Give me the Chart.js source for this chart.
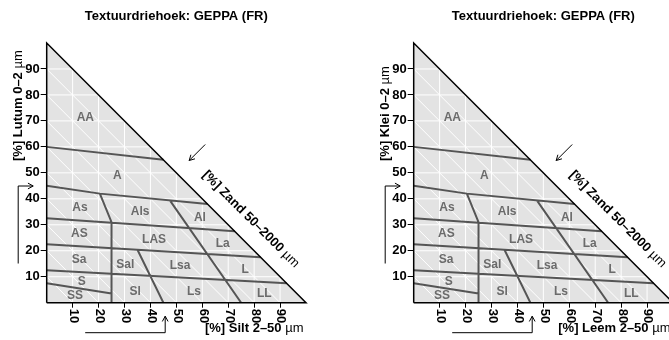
<!DOCTYPE html>
<html>
<head>
<meta charset="utf-8">
<script src="https://cdn.jsdelivr.net/npm/chart.js@4.4.0/dist/chart.umd.min.js"></script>
<style>
html, body { margin: 0; padding: 0; background: #fff; overflow: hidden; width: 669px; height: 340px; position: relative; }
canvas { position: absolute; top: 0; }
</style>
</head>
<body>
<canvas id="left-chart" width="335" height="340" style="left:0"></canvas>
<canvas id="right-chart" width="335" height="340" style="left:367px"></canvas>
<script>
Chart.defaults.font.family = "'Liberation Sans', Arial, sans-serif";
Chart.defaults.color = '#000';

const chartTitle = 'Textuurdriehoek: GEPPA (FR)';
const tickValues = [10, 20, 30, 40, 50, 60, 70, 80, 90];

// class labels (silt %, clay %)
const classNames = ['AA', 'A', 'As', 'Als', 'Al', 'AS', 'LAS', 'La', 'Sa', 'Sal', 'Lsa', 'L', 'S', 'SS', 'Sl', 'Ls', 'LL'];
const classSilt  = [14.9, 27.2, 12.8, 36.0, 59.1, 12.6, 41.4, 67.9, 12.5, 30.3, 51.4, 76.5, 13.5, 10.9, 34.1, 56.8, 83.9];
const classClay  = [71.3, 48.9, 36.6, 35.1, 32.9, 26.4, 24.4, 22.9, 16.5, 14.8, 14.2, 12.9, 8.1, 2.6, 4.2, 4.2, 3.6];

// class boundaries as [silt, clay] polylines
const boundaries = [
    [[0, 60], [45, 55]],
    [[0, 45], [20.5, 42], [62, 38]],
    [[20.5, 42], [25, 31], [25, 0]],
    [[0, 32.5], [72.5, 27.5]],
    [[0, 22.5], [82.5, 17.5]],
    [[0, 12.5], [92.5, 7.5]],
    [[0, 7.5], [25, 3.5]],
    [[35, 20.4], [45, 0]],
    [[47.5, 39.4], [75, 0]]
];

const panels = [
    { id: 'left-chart', yTitle: '[%] Lutum 0\u20132 ', xTitle: '[%] Silt 2\u201350 ', sandTitle: '[%] Zand 50\u20132000 ' },
    { id: 'right-chart', yTitle: '[%] Klei 0\u20132 ', xTitle: '[%] Leem 2\u201350 ', sandTitle: '[%] Zand 50\u20132000 ' }
];

const BOLD = "bold 13px 'Liberation Sans', Arial, sans-serif";
const PLAIN = "13px 'Liberation Sans', Arial, sans-serif";

// white reference grid: silt, clay and sand lines
const gridPts = [];
tickValues.forEach(v => {
    gridPts.push({ x: v, y: 0 }, { x: v, y: 100 - v }, { x: null, y: null });
    gridPts.push({ x: 0, y: v }, { x: 100 - v, y: v }, { x: null, y: null });
    gridPts.push({ x: 0, y: v }, { x: v, y: 0 }, { x: null, y: null });
});
const boundaryPts = [];
boundaries.forEach(line => {
    line.forEach(p => boundaryPts.push({ x: p[0], y: p[1] }));
    boundaryPts.push({ x: null, y: null });
});

function textWithMu(ctx, str, x, y, align) {
    ctx.font = BOLD;
    const w1 = ctx.measureText(str).width;
    ctx.font = PLAIN;
    const w2 = ctx.measureText('\u00b5m').width;
    const start = align === 'right' ? x - w1 - w2 : align === 'center' ? x - (w1 + w2) / 2 : x;
    ctx.textAlign = 'left';
    ctx.font = BOLD;
    ctx.fillText(str, start, y);
    ctx.font = PLAIN;
    ctx.fillText('\u00b5m', start + w1, y);
}

function arrowHead(ctx, x, y, ang) {
    const len = 6, spread = 0.5;
    ctx.beginPath();
    ctx.moveTo(x - len * Math.cos(ang - spread), y - len * Math.sin(ang - spread));
    ctx.lineTo(x, y);
    ctx.lineTo(x - len * Math.cos(ang + spread), y - len * Math.sin(ang + spread));
    ctx.stroke();
}

const decorPlugin = {
    id: 'decor',
    afterDraw(chart) {
        const ctx = chart.ctx;
        const ca = chart.chartArea;
        const xs = chart.scales.x, ys = chart.scales.y;
        const panel = chart.options.plugins.decor;
        ctx.save();
        ctx.fillStyle = '#000';
        ctx.textBaseline = 'middle';

        // title
        ctx.font = BOLD;
        ctx.textAlign = 'center';
        ctx.fillText(chartTitle, (ca.left + ca.right) / 2, 16.5);

        // class labels
        ctx.fillStyle = '#6b6b6b';
        ctx.font = "bold 12px 'Liberation Sans', Arial, sans-serif";
        classNames.forEach((n, i) => {
            ctx.fillText(n, xs.getPixelForValue(classSilt[i]), ys.getPixelForValue(classClay[i]));
        });
        ctx.fillStyle = '#000';

        // x tick labels, turned to read downward
        ctx.font = BOLD;
        tickValues.forEach(v => {
            ctx.save();
            ctx.translate(xs.getPixelForValue(v) + 1, ca.bottom + 6);
            ctx.rotate(Math.PI / 2);
            ctx.textAlign = 'left';
            ctx.fillText(String(v), 0, 0);
            ctx.restore();
        });

        // axis titles
        textWithMu(ctx, panel.xTitle, ca.right - 2.5, ca.bottom + 25.5, 'right');
        ctx.save();
        ctx.translate(ca.left - 28.5, ca.top + 118);
        ctx.rotate(-Math.PI / 2);
        textWithMu(ctx, panel.yTitle, 0, 0, 'left');
        ctx.restore();
        ctx.save();
        const hx = xs.getPixelForValue(73.3), hy = ys.getPixelForValue(26.7);
        ctx.translate(hx + 14, hy - 14);
        ctx.rotate(Math.PI / 4);
        textWithMu(ctx, panel.sandTitle, 0, 0, 'center');
        ctx.restore();

        // direction arrows
        ctx.strokeStyle = '#000';
        ctx.lineWidth = 1;
        ctx.beginPath();
        ctx.moveTo(ca.left - 28.5, ca.top + 220.5);
        ctx.lineTo(ca.left - 28.5, ca.top + 143);
        ctx.lineTo(ca.left - 13.5, ca.top + 143);
        ctx.stroke();
        arrowHead(ctx, ca.left - 13.5, ca.top + 143, 0);

        ctx.beginPath();
        ctx.moveTo(ca.left + 38.5, ca.bottom + 30);
        ctx.lineTo(ca.left + 118.5, ca.bottom + 30);
        ctx.lineTo(ca.left + 118.5, ca.bottom + 13.5);
        ctx.stroke();
        arrowHead(ctx, ca.left + 118.5, ca.bottom + 13.5, -Math.PI / 2);

        ctx.beginPath();
        ctx.moveTo(ca.left + 158.5, ca.top + 101.5);
        ctx.lineTo(ca.left + 142.5, ca.top + 117.5);
        ctx.stroke();
        arrowHead(ctx, ca.left + 142.5, ca.top + 117.5, 3 * Math.PI / 4);
        ctx.restore();
    }
};

panels.forEach(panel => {
    const ctx = document.getElementById(panel.id).getContext('2d');
    new Chart(ctx, {
        type: 'scatter',
        data: {
            datasets: [
                { data: [{ x: 0, y: 0 }, { x: 0, y: 100 }, { x: 100, y: 0 }, { x: 0, y: 0 }], showLine: true, borderColor: '#000', borderWidth: 1.5, pointRadius: 0, clip: false, order: 1 },
                { data: boundaryPts, showLine: true, borderColor: '#555555', borderWidth: 2, pointRadius: 0, spanGaps: false, order: 2 },
                { data: gridPts, showLine: true, borderColor: '#ffffff', borderWidth: 1, pointRadius: 0, spanGaps: false, order: 3 },
                { data: [{ x: 0, y: 100 }, { x: 100, y: 0 }], showLine: true, fill: 'origin', backgroundColor: '#e3e3e3', borderWidth: 0, pointRadius: 0, order: 4 }
            ]
        },
        options: {
            responsive: false,
            animation: false,
            devicePixelRatio: 1,
            layout: { padding: { left: 0, top: 43, right: 29, bottom: 0 } },
            plugins: { legend: { display: false }, tooltip: { enabled: false }, decor: panel },
            scales: {
                x: {
                    type: 'linear', min: 0, max: 100,
                    afterBuildTicks: s => { s.ticks = tickValues.map(v => ({ value: v })); },
                    afterFit: s => { s.height = 37.3; },
                    border: { display: false },
                    grid: { drawOnChartArea: false, drawTicks: true, tickLength: 5, color: '#000', lineWidth: 1 },
                    ticks: { display: false }
                },
                y: {
                    type: 'linear', min: 0, max: 100,
                    afterBuildTicks: s => { s.ticks = tickValues.map(v => ({ value: v })); },
                    afterFit: s => { s.width = 46.7; },
                    border: { display: false },
                    grid: { drawOnChartArea: false, drawTicks: true, tickLength: 6, color: '#000', lineWidth: 1 },
                    ticks: { padding: 1, color: '#000', font: { size: 13, weight: 'bold' } }
                }
            }
        },
        plugins: [decorPlugin]
    });
});
</script>
</body>
</html>
